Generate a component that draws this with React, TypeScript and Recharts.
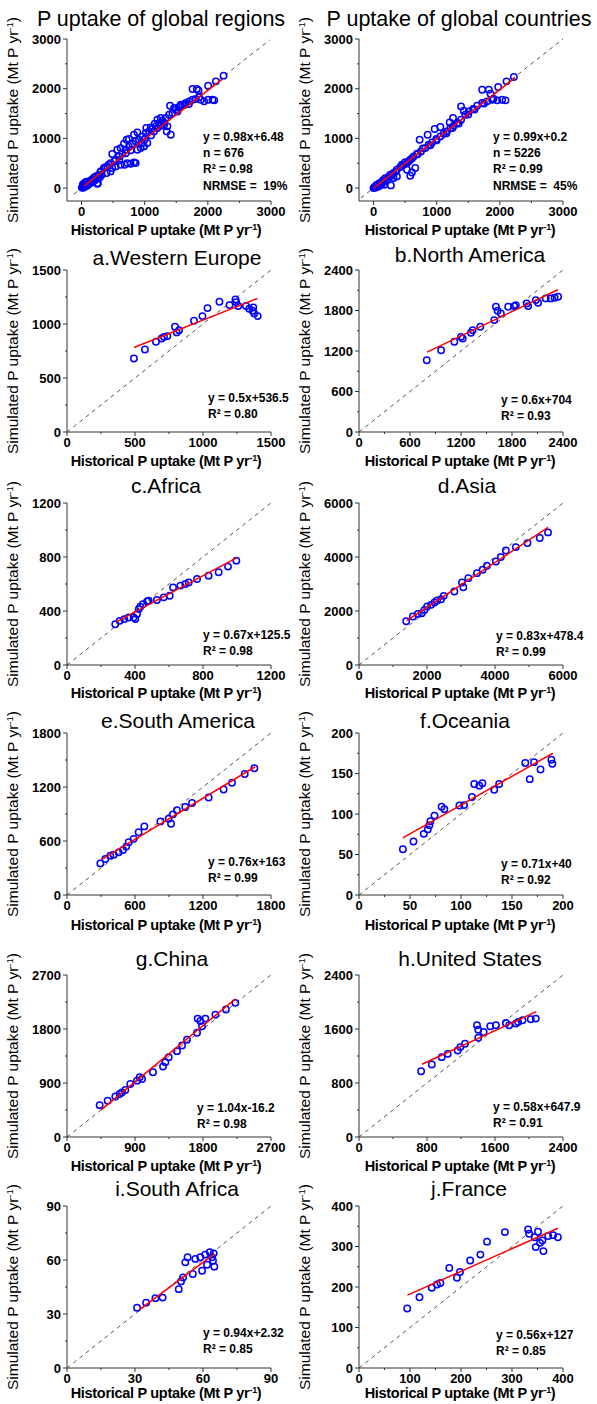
import React from 'react';
import { ScatterChart, Scatter, XAxis, YAxis, ReferenceLine } from 'recharts';

const regionsObs = [
  [5, 10], [15, 25], [25, 5], [30, 40], [40, 20], [50, 60], [60, 30], [70, 75], [80, 45], [90, 100],
  [100, 60], [110, 120], [125, 85], [140, 150], [150, 110], [165, 175], [180, 135], [195, 210], [210, 160],
  [230, 240], [250, 190], [260, 95], [270, 260], [290, 220], [300, 320], [320, 270], [20, 70], [35, 90],
  [55, 110], [75, 130], [249, 87], [302, 336], [354, 403], [407, 436], [460, 503], [540, 570], [593, 638],
  [646, 691], [698, 772], [751, 839], [804, 893], [857, 940], [910, 973], [963, 1040], [1016, 1107],
  [1069, 1141], [1122, 1188], [1175, 1242], [1228, 1295], [1280, 1362], [1333, 1409], [1386, 1476],
  [1439, 1510], [1492, 1577], [1545, 1631], [1598, 1678], [1651, 1711], [1704, 1745], [1757, 1778],
  [1810, 1792], [1889, 1778], [1942, 1745], [2005, 1778], [2074, 1778], [2101, 1765],
  [487, 685], [566, 772], [619, 805], [672, 893], [714, 973], [751, 987], [831, 1074], [884, 1121],
  [1026, 1208], [1095, 1221], [1159, 1295], [1201, 1376], [1254, 1409], [1402, 1658], [1466, 1611],
  [1571, 1678], [1635, 1678], [397, 302], [460, 336], [487, 403], [540, 436], [619, 470], [683, 470],
  [725, 503], [778, 490], [831, 517], [857, 503], [884, 772], [937, 805], [989, 839], [1042, 906],
  [1148, 1141], [1201, 1208], [1254, 1255], [1307, 1275], [1360, 1242], [1349, 1141], [1413, 1074],
  [1757, 1993], [1825, 1993], [1852, 1966], [2005, 2060], [2127, 2148], [2249, 2262],
  [380, 420], [430, 470], [520, 540], [600, 560], [700, 700], [780, 760], [950, 900], [1000, 980],
  [1100, 1060], [1300, 1320], [1520, 1540], [1700, 1690], [1860, 1830],
];
const countriesObs = [
  [0, 0], [10, 15], [26, 34], [40, 10], [53, 67], [60, 40], [79, 34], [90, 95], [106, 101], [120, 70],
  [132, 87], [150, 160], [159, 134], [169, 67], [185, 201], [200, 150], [212, 168], [240, 230], [265, 268],
  [275, 54], [290, 250], [317, 302], [317, 201], [350, 330], [370, 369], [370, 235], [423, 423], [476, 470],
  [529, 503], [582, 570], [635, 638], [688, 691], [751, 738], [820, 805], [873, 872], [926, 919],
  [995, 987], [1058, 1040], [1111, 1094], [1164, 1141], [1217, 1208], [1270, 1255], [1323, 1309],
  [1386, 1376], [1455, 1476], [1508, 1543], [1577, 1591], [1640, 1658], [1720, 1711], [1799, 1745],
  [1878, 1778], [1958, 1765], [2037, 1778], [2090, 1765], [730, 973], [857, 1074], [968, 1188],
  [1058, 1228], [1206, 1322], [1259, 1409], [1386, 1644], [1429, 1557], [1720, 1980], [1825, 1980],
  [1852, 1899], [1974, 2033], [2106, 2148], [2222, 2235], [529, 369], [608, 315], [661, 403], [582, 248],
  [450, 470], [500, 520], [560, 540], [610, 600], [700, 680], [780, 800], [900, 860], [1000, 960],
  [1150, 1100], [1250, 1210], [1350, 1300], [1500, 1480], [1600, 1580], [1750, 1700], [1900, 1800],
];
const westEuropeObs = [
  [492, 680], [573, 764], [654, 835], [696, 866], [713, 881], [738, 888], [794, 974], [807, 922],
  [824, 943], [934, 1030], [996, 1073], [1033, 1147], [1121, 1206], [1195, 1175], [1239, 1228],
  [1244, 1203], [1259, 1166], [1316, 1166], [1340, 1141], [1365, 1123], [1377, 1098], [1370, 1154],
  [1402, 1073],
];
const northAmericaObs = [
  [797, 1064], [966, 1212], [1122, 1336], [1200, 1410], [1220, 1385], [1317, 1470], [1337, 1509],
  [1427, 1559], [1591, 1658], [1611, 1855], [1630, 1796], [1669, 1757], [1755, 1855], [1826, 1865],
  [1845, 1880], [1974, 1905], [1990, 1865], [2080, 1954], [2107, 1915], [2197, 1979], [2256, 1979],
  [2302, 1989], [2342, 2004],
];
const africaObs = [
  [284, 302], [310, 327], [337, 340], [363, 352], [392, 352], [402, 340], [412, 377], [422, 414],
  [431, 431], [447, 451], [471, 471], [480, 476], [529, 481], [569, 501], [604, 513], [624, 575],
  [667, 588], [696, 600], [716, 612], [765, 637], [833, 662], [892, 687], [947, 729], [996, 773],
];
const asiaObs = [
  [1388, 1620], [1583, 1794], [1730, 1893], [1847, 1917], [1925, 2041], [2003, 2165], [2120, 2227],
  [2218, 2313], [2296, 2388], [2414, 2437], [2492, 2561], [2805, 2721], [3029, 3055], [3068, 2882],
  [3215, 3216], [3469, 3402], [3635, 3526], [3762, 3674], [4026, 3835], [4173, 3996], [4319, 4243],
  [4612, 4367], [4954, 4515], [5316, 4701], [5560, 4911],
];
const southAmericaObs = [
  [294, 351], [338, 400], [382, 437], [412, 448], [456, 474], [494, 500], [523, 538], [544, 586],
  [588, 624], [632, 698], [682, 762], [824, 818], [897, 848], [918, 792], [935, 896], [970, 941],
  [1044, 978], [1103, 1023], [1250, 1083], [1382, 1172], [1456, 1247], [1568, 1344], [1653, 1408],
];
const oceaniaObs = [
  [43, 56.5], [53.4, 66], [63.5, 75.5], [67.4, 81], [69, 86], [70, 91], [74, 98], [81, 109], [83.7, 106],
  [98.4, 110.5], [103, 111], [110.7, 121], [113, 137], [118, 135], [121, 138], [132.6, 130], [137.4, 137],
  [163, 163], [167.4, 143], [171.6, 164], [178, 155], [188.6, 167], [189.6, 162],
];
const chinaObs = [
  [432, 531], [538, 604], [640, 676], [697, 716], [728, 744], [772, 783], [838, 883], [927, 939],
  [962, 995], [993, 967], [1138, 1079], [1271, 1174], [1302, 1247], [1346, 1330], [1456, 1431],
  [1522, 1526], [1588, 1621], [1721, 1738], [1730, 1973], [1765, 1934], [1787, 1845], [1831, 1973],
  [1964, 2040], [2104, 2124], [2228, 2236],
];
const unitedStatesObs = [
  [731, 974], [856, 1073], [973, 1183], [1044, 1232], [1161, 1282], [1192, 1332], [1247, 1381],
  [1388, 1655], [1403, 1590], [1403, 1471], [1466, 1555], [1544, 1640], [1611, 1655], [1728, 1689],
  [1767, 1655], [1845, 1680], [1872, 1704], [1923, 1729], [2021, 1744], [2080, 1754],
];
const southAfricaObs = [
  [30.9, 33.5], [34.9, 36.3], [39, 38.8], [42.2, 39.1], [49.3, 43.8], [50.3, 48.1], [51.2, 50.3],
  [52.2, 58.7], [53.2, 61.5], [55.5, 52.2], [56.6, 60.6], [58.8, 61.5], [59.6, 54], [61, 63],
  [61.8, 57.4], [63, 64.3], [64, 61.5], [64.4, 59.6], [65, 56.3], [64.7, 63.7],
];
const franceObs = [
  [94.5, 146.8], [118.6, 174.8], [142.7, 198], [153, 206], [159.6, 210], [177, 247], [192, 223],
  [198, 237], [218, 265.5], [238, 280], [251, 312], [286, 335.6], [331.6, 342], [333.6, 331.5],
  [344.6, 323], [351, 336.5], [346.6, 298.5], [355, 309], [361.6, 288.6], [359.6, 315], [371, 326],
  [380.5, 328], [390, 323],
];

// end points of the fitted (red) lines
const regionsFit = [[40, 46], [2230, 2192]];
const countriesFit = [[0, 0], [2240, 2218]];
const westEuropeFit = [[492, 782], [1400, 1236]];
const northAmericaFit = [[800, 1184], [2340, 2108]];
const africaFit = [[290, 320], [1000, 796]];
const asiaFit = [[1400, 1640], [5560, 5093]];
const southAmericaFit = [[300, 391], [1660, 1425]];
const oceaniaFit = [[43, 70.5], [190, 175]];
const chinaFit = [[450, 452], [2230, 2303]];
const unitedStatesFit = [[740, 1077], [2085, 1857]];
const southAfricaFit = [[32, 32.4], [65, 63.4]];
const franceFit = [[95, 180], [390, 345]];

// axis ticks (labelled, plus minor ticks at the midpoints)
const ticks3000 = [0, 500, 1000, 1500, 2000, 2500, 3000];
const labels3000 = [0, 1000, 2000, 3000];
const ticks1500 = [0, 250, 500, 750, 1000, 1250, 1500];
const labels1500 = [0, 500, 1000, 1500];
const ticks2400a = [0, 300, 600, 900, 1200, 1500, 1800, 2100, 2400];
const labels2400a = [0, 600, 1200, 1800, 2400];
const ticks1200 = [0, 200, 400, 600, 800, 1000, 1200];
const labels1200 = [0, 400, 800, 1200];
const ticks6000 = [0, 1000, 2000, 3000, 4000, 5000, 6000];
const labels6000 = [0, 2000, 4000, 6000];
const ticks1800 = [0, 300, 600, 900, 1200, 1500, 1800];
const labels1800 = [0, 600, 1200, 1800];
const ticks200 = [0, 25, 50, 75, 100, 125, 150, 175, 200];
const labels200 = [0, 50, 100, 150, 200];
const ticks2700 = [0, 450, 900, 1350, 1800, 2250, 2700];
const labels2700 = [0, 900, 1800, 2700];
const ticks2400b = [0, 400, 800, 1200, 1600, 2000, 2400];
const labels2400b = [0, 800, 1600, 2400];
const ticks90 = [0, 15, 30, 45, 60, 75, 90];
const labels90 = [0, 30, 60, 90];
const ticks400 = [0, 50, 100, 150, 200, 250, 300, 350, 400];
const labels400 = [0, 100, 200, 300, 400];

const FONT = '"Liberation Sans", Arial, sans-serif';
const AXIS = '#333333';

const toPts = (a: number[][]) => a.map(([x, y]) => ({ x, y }));

type Panel = {
  title: string; obs: number[][]; fit: number[][];
  xDomain: [number, number]; yDomain: [number, number];
  ticks: number[]; labels: number[]; diag: [number, number];
  stats: string[]; col: number; row: number;
  titleX: number; titleY: number; titleSize: number; statX: number; statY: number;
};

const panels: Panel[] = [
  { title: 'P uptake of global regions', obs: regionsObs, fit: regionsFit, xDomain: [-230, 3000], yDomain: [-260, 3000],
    ticks: ticks3000, labels: labels3000, diag: [-120, 2980], stats: ['y = 0.98x+6.48', 'n = 676', 'R² = 0.98', 'NRMSE =  19%'],
    col: 0, row: 0, titleX: 161, titleY: 20, titleSize: 21.5, statX: 203, statY: 137 },
  { title: 'P uptake of global countries', obs: countriesObs, fit: countriesFit, xDomain: [-230, 3000], yDomain: [-260, 3000],
    ticks: ticks3000, labels: labels3000, diag: [-200, 3000], stats: ['y = 0.99x+0.2', 'n = 5226', 'R² = 0.99', 'NRMSE =  45%'],
    col: 1, row: 0, titleX: 459, titleY: 20, titleSize: 21.5, statX: 493, statY: 137 },
  { title: 'a.Western Europe', obs: westEuropeObs, fit: westEuropeFit, xDomain: [0, 1500], yDomain: [0, 1500],
    ticks: ticks1500, labels: labels1500, diag: [0, 1500], stats: ['y = 0.5x+536.5', 'R² = 0.80'],
    col: 0, row: 1, titleX: 177, titleY: 257, titleSize: 21, statX: 208, statY: 398 },
  { title: 'b.North America', obs: northAmericaObs, fit: northAmericaFit, xDomain: [0, 2400], yDomain: [0, 2400],
    ticks: ticks2400a, labels: labels2400a, diag: [0, 2400], stats: ['y = 0.6x+704', 'R² = 0.93'],
    col: 1, row: 1, titleX: 470, titleY: 254, titleSize: 21, statX: 501, statY: 400 },
  { title: 'c.Africa', obs: africaObs, fit: africaFit, xDomain: [0, 1200], yDomain: [0, 1200],
    ticks: ticks1200, labels: labels1200, diag: [0, 1200], stats: ['y = 0.67x+125.5', 'R² = 0.98'],
    col: 0, row: 2, titleX: 166, titleY: 485, titleSize: 21, statX: 203, statY: 635 },
  { title: 'd.Asia', obs: asiaObs, fit: asiaFit, xDomain: [0, 6000], yDomain: [0, 6000],
    ticks: ticks6000, labels: labels6000, diag: [0, 6000], stats: ['y = 0.83x+478.4', 'R² = 0.99'],
    col: 1, row: 2, titleX: 467, titleY: 485, titleSize: 21, statX: 496, statY: 636 },
  { title: 'e.South America', obs: southAmericaObs, fit: southAmericaFit, xDomain: [0, 1800], yDomain: [0, 1800],
    ticks: ticks1800, labels: labels1800, diag: [0, 1800], stats: ['y = 0.76x+163', 'R² = 0.99'],
    col: 0, row: 3, titleX: 178, titleY: 720, titleSize: 21, statX: 208, statY: 862 },
  { title: 'f.Oceania', obs: oceaniaObs, fit: oceaniaFit, xDomain: [0, 200], yDomain: [0, 200],
    ticks: ticks200, labels: labels200, diag: [0, 200], stats: ['y = 0.71x+40', 'R² = 0.92'],
    col: 1, row: 3, titleX: 465, titleY: 720, titleSize: 21, statX: 501, statY: 864 },
  { title: 'g.China', obs: chinaObs, fit: chinaFit, xDomain: [0, 2700], yDomain: [0, 2700],
    ticks: ticks2700, labels: labels2700, diag: [0, 2700], stats: ['y = 1.04x-16.2', 'R² = 0.98'],
    col: 0, row: 4, titleX: 172, titleY: 958, titleSize: 21, statX: 197, statY: 1108 },
  { title: 'h.United States', obs: unitedStatesObs, fit: unitedStatesFit, xDomain: [0, 2400], yDomain: [0, 2400],
    ticks: ticks2400b, labels: labels2400b, diag: [0, 2400], stats: ['y = 0.58x+647.9', 'R² = 0.91'],
    col: 1, row: 4, titleX: 470, titleY: 958, titleSize: 21, statX: 493, statY: 1107 },
  { title: 'i.South Africa', obs: southAfricaObs, fit: southAfricaFit, xDomain: [0, 90], yDomain: [0, 90],
    ticks: ticks90, labels: labels90, diag: [0, 90], stats: ['y = 0.94x+2.32', 'R² = 0.85'],
    col: 0, row: 5, titleX: 177, titleY: 1188, titleSize: 21, statX: 203, statY: 1333 },
  { title: 'j.France', obs: franceObs, fit: franceFit, xDomain: [0, 400], yDomain: [0, 400],
    ticks: ticks400, labels: labels400, diag: [0, 400], stats: ['y = 0.56x+127', 'R² = 0.85'],
    col: 1, row: 5, titleX: 469, titleY: 1188, titleSize: 21, statX: 496, statY: 1335 },
];

const PLOT_TOP = [39, 270, 503, 733, 975, 1206];
const XTITLE_Y = [230, 461, 693, 925, 1166, 1393];
const PLOT_H = 162;
const CHART_W = 290;

const makeTick = (labels: number[], axis: 'x' | 'y') => (props: any) => {
  const { x, y, payload } = props;
  const v = payload.value;
  const major = labels.includes(v);
  const len = major ? 4 : 2;
  if (axis === 'y') {
    const ax = x + 7;
    return (
      <g>
        <line x1={ax - len} x2={ax} y1={y} y2={y} stroke={AXIS} />
        {major && (
          <text x={ax - 6} y={y + 4.5} textAnchor="end" fontFamily={FONT} fontWeight="bold" fontSize={13} fill="#000">
            {v}
          </text>
        )}
      </g>
    );
  }
  const ay = y - 7;
  return (
    <g>
      <line x1={x} x2={x} y1={ay} y2={ay + len} stroke={AXIS} />
      {major && (
        <text x={x} y={ay + 15} textAnchor="middle" fontFamily={FONT} fontWeight="bold" fontSize={13} fill="#000">
          {v}
        </text>
      )}
    </g>
  );
};

const Ring = (p: any) => <circle cx={p.cx} cy={p.cy} r={3.2} fill="none" stroke="#0000ff" strokeWidth={1.5} />;
const NoDot = () => <g />;

const Sup = ({ children }: { children: React.ReactNode }) => (
  <span style={{ fontSize: '0.62em', verticalAlign: '0.55em', lineHeight: 0 }}>{children}</span>
);

const PanelChart: React.FC<{ p: Panel }> = ({ p }) => {
  const plotTop = PLOT_TOP[p.row];
  const left = p.col === 0 ? 0 : 292;
  return (
    <div style={{ position: 'absolute', left, top: plotTop - 10 }}>
      <ScatterChart width={CHART_W} height={10 + PLOT_H + 24} margin={{ top: 10, right: 19, bottom: 0, left: 15 }}>
        <XAxis
          type="number" dataKey="x" domain={p.xDomain} ticks={p.ticks} interval={0} allowDataOverflow
          tick={makeTick(p.labels, 'x')} tickLine={false} tickSize={4} tickMargin={3} height={24} stroke={AXIS}
        />
        <YAxis
          type="number" dataKey="y" domain={p.yDomain} ticks={p.ticks} interval={0} allowDataOverflow
          tick={makeTick(p.labels, 'y')} tickLine={false} tickSize={4} tickMargin={3} width={52} stroke={AXIS}
        />
        <ReferenceLine
          segment={[{ x: p.diag[0], y: p.diag[0] }, { x: p.diag[1], y: p.diag[1] }]}
          stroke="#555" strokeDasharray="4 4" ifOverflow="visible"
        />
        <Scatter data={toPts(p.obs)} shape={Ring} isAnimationActive={false} />
        <Scatter data={toPts(p.fit)} shape={NoDot} line={{ stroke: '#ff0000', strokeWidth: 1.5 }} isAnimationActive={false} />
      </ScatterChart>
    </div>
  );
};

const PanelText: React.FC<{ p: Panel }> = ({ p }) => {
  const plotTop = PLOT_TOP[p.row];
  const yTitleX = p.col === 0 ? 13 : 305;
  const xTitleX = p.col === 0 ? 166 : 460;
  return (
    <>
      <div style={{ position: 'absolute', left: p.titleX - 160, width: 320, top: p.titleY - 0.49 * p.titleSize,
        textAlign: 'center', fontSize: p.titleSize, lineHeight: `${p.titleSize}px`, whiteSpace: 'nowrap' }}>
        {p.title}
      </div>
      <div style={{ position: 'absolute', left: p.statX, top: p.statY - 8.1, fontSize: 12, fontWeight: 'bold',
        lineHeight: '16.3px', whiteSpace: 'pre' }}>
        {p.stats.map((s) => <div key={s}>{s}</div>)}
      </div>
      <div style={{ position: 'absolute', left: yTitleX - 130, width: 260, top: plotTop + 81 - 8, height: 16,
        textAlign: 'center', fontSize: 15.5, lineHeight: '16px', whiteSpace: 'nowrap', transform: 'rotate(-90deg)' }}>
        Simulated P uptake (Mt P yr<Sup>-1</Sup>)
      </div>
      <div style={{ position: 'absolute', left: xTitleX - 130, width: 260, top: XTITLE_Y[p.row] - 7,
        textAlign: 'center', fontSize: 14.5, fontWeight: 'bold', lineHeight: '14px', whiteSpace: 'nowrap', letterSpacing: -0.3 }}>
        Historical P uptake (Mt P yr<Sup>-1</Sup>)
      </div>
    </>
  );
};

export default function App() {
  return (
    <div style={{ position: 'absolute', left: 0, top: 0, width: 597, height: 1404, background: '#fff', fontFamily: FONT, color: '#000' }}>
      {panels.map((p) => <PanelChart key={p.title} p={p} />)}
      {panels.map((p) => <PanelText key={p.title + '-t'} p={p} />)}
    </div>
  );
}
